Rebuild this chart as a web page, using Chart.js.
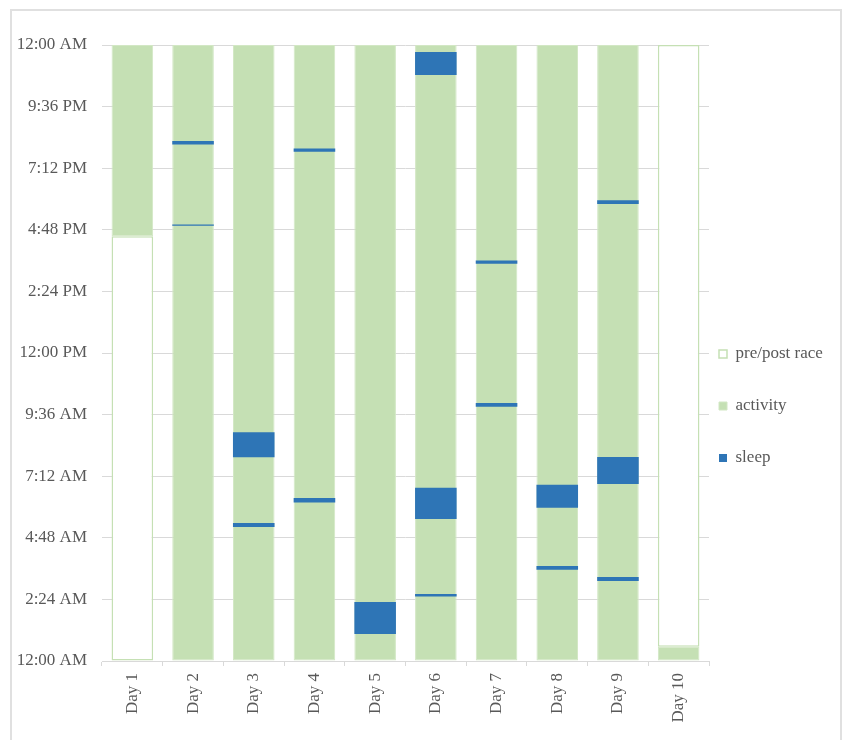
<!DOCTYPE html>
<html>
<head>
<meta charset="utf-8">
<script src="https://cdn.jsdelivr.net/npm/chart.js@4.4.1/dist/chart.umd.min.js"></script>
<style>
  html, body { margin: 0; padding: 0; background: #ffffff; }
  #wrap { position: relative; width: 843px; height: 740px; overflow: hidden; }
  #c { position: absolute; left: 0; top: 0; }
  #frame { position: absolute; left: 10px; top: 9px; width: 832px; height: 760px;
           border: 2px solid #e0e0e0; box-sizing: border-box; pointer-events: none; }
</style>
</head>
<body>
<div id="wrap">
  <canvas id="c" width="843" height="740"></canvas>
  <div id="frame"></div>
</div>
<script>
// Race days along the x axis
const days = ['Day 1', 'Day 2', 'Day 3', 'Day 4', 'Day 5', 'Day 6', 'Day 7', 'Day 8', 'Day 9', 'Day 10'];

// Clock labels for the y axis (hours after midnight, every 2.4 h)
const yTickLabels = ['12:00 AM', '2:24 AM', '4:48 AM', '7:12 AM', '9:36 AM', '12:00 PM',
                     '2:24 PM', '4:48 PM', '7:12 PM', '9:36 PM', '12:00 AM'];

// Part of each day spent racing, in hours after midnight
const raceStart = [16.55, 0, 0, 0, 0, 0, 0, 0, 0, 0];
const raceEnd   = [24, 24, 24, 24, 24, 24, 24, 24, 24, 0.56];

// Sleep stops during the race, [from, to] in hours after midnight (null = none)
const sleepFirst  = [null, [16.96, 17.01], [5.22, 5.38], [6.18, 6.35], [1.05, 2.30],
                     [2.51, 2.61], [9.91, 10.05], [3.56, 3.70], [3.12, 3.27], null];
const sleepSecond = [null, [20.12, 20.26], [7.94, 8.91], [19.84, 19.97], null,
                     [5.53, 6.75], [15.48, 15.60], [5.97, 6.87], [6.90, 7.95], null];
const sleepThird  = [null, null, null, null, null,
                     [22.83, 23.73], null, null, [17.81, 17.95], null];

const GREEN = '#c5e0b4';
const BLUE = '#2e75b6';
const TEXT = '#595959';
const FONT = { family: '"Liberation Serif", "Times New Roman", serif', size: 17 };

// Time before the start / after the finish
const prePost = days.map((d, i) => {
  if (raceStart[i] > 0) return [0, raceStart[i]];
  if (raceEnd[i] < 24) return [raceEnd[i], 24];
  return null;
});
const activity = days.map((d, i) => [raceStart[i], raceEnd[i]]);

const sleepStyle = {
  backgroundColor: BLUE,
  borderColor: BLUE,
  borderWidth: 0,
  order: 1
};

const datasets = [
  { label: 'pre/post race', data: prePost, backgroundColor: '#ffffff',
    borderColor: GREEN, borderWidth: 1.5, order: 2 },
  { label: 'activity', data: activity, backgroundColor: GREEN,
    borderColor: '#d2e7c4', borderWidth: 1, order: 2 },
  { label: 'sleep', data: sleepFirst, ...sleepStyle },
  { label: 'sleep', data: sleepSecond, ...sleepStyle },
  { label: 'sleep', data: sleepThird, ...sleepStyle }
];

// Puts the legend block beside the plot, lower than the default spot
const legendPlacement = {
  id: 'legendPlacement',
  afterLayout(chart) {
    const l = chart.legend;
    if (!l) return;
    l.left = 684;
    l.right = 843;
    l.top = 310.5;
    l.bottom = 740;
  }
};

new Chart(document.getElementById('c'), {
  type: 'bar',
  data: { labels: days, datasets },
  options: {
    responsive: false,
    animation: false,
    layout: { padding: { top: 45, left: 0, right: 0, bottom: 0 } },
    datasets: {
      bar: { grouped: false, categoryPercentage: 1, barPercentage: 0.685, borderSkipped: false }
    },
    scales: {
      x: {
        grid: { display: true, drawOnChartArea: false, color: '#d9d9d9', tickLength: 5, offset: true },
        border: { display: true, color: '#d9d9d9' },
        ticks: { minRotation: 90, maxRotation: 90, autoSkip: false, padding: 7, color: TEXT, font: FONT },
        afterFit(scale) { scale.height = 79; }
      },
      y: {
        min: 0,
        max: 24,
        ticks: {
          stepSize: 2.4,
          padding: 15,
          color: TEXT,
          font: FONT,
          callback: (value, index) => yTickLabels[index]
        },
        grid: { color: '#d9d9d9', drawTicks: false },
        border: { display: false },
        afterFit(scale) { scale.width = 102; }
      }
    },
    plugins: {
      legend: {
        position: 'right',
        align: 'start',
        maxWidth: 134,
        labels: {
          boxWidth: 8,
          boxHeight: 8,
          padding: 35,
          color: TEXT,
          font: FONT,
          filter: (item) => item.datasetIndex < 3,
          sort: (a, b) => a.datasetIndex - b.datasetIndex
        }
      },
      tooltip: { enabled: false }
    }
  },
  plugins: [legendPlacement]
});
</script>
</body>
</html>
